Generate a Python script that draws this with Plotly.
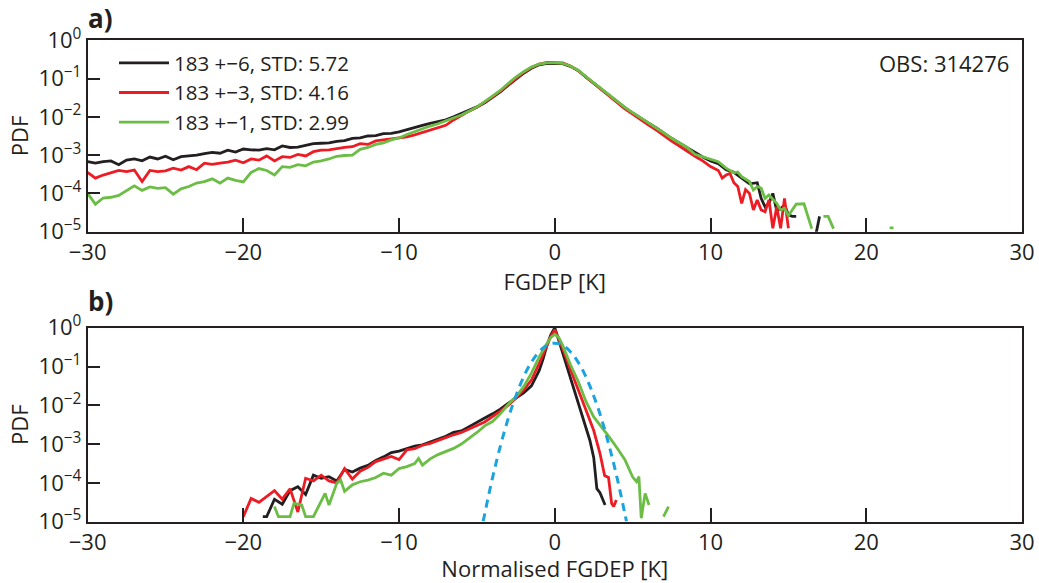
import numpy as np
import plotly.graph_objects as go

# ---------------- data (log10 of PDF) ----------------
# Panel a: FGDEP [K], bins on a 0.5 K grid from -30 to 10, plus irregular tails
xa_main = list(np.round(np.arange(-30, 10.01, 0.5), 2))

a_black_main = [-3.17, -3.21, -3.17, -3.15, -3.25, -3.13, -3.10, -3.15, -3.05, -3.10, -3.03,
                -3.12, -3.04, -3.02, -3.00, -2.96, -2.93, -2.95, -2.87, -2.92, -2.84, -2.86,
                -2.87, -2.83, -2.86, -2.76, -2.80, -2.79, -2.74, -2.70, -2.69,
                -2.68, -2.64, -2.62, -2.56, -2.55, -2.50, -2.49, -2.44, -2.43, -2.39, -2.33,
                -2.26, -2.22, -2.17, -2.13, -2.08, -2.00, -1.92, -1.82, -1.74, -1.63, -1.50,
                -1.35, -1.18, -1.01, -0.86, -0.73, -0.64, -0.60,
                -0.60, -0.61, -0.68, -0.79, -0.96, -1.12, -1.28, -1.45, -1.61, -1.76, -1.90,
                -2.04, -2.16, -2.28, -2.43, -2.56, -2.68, -2.80, -2.94, -3.05, -3.15]
a_red_main = [-3.45, -3.60, -3.52, -3.47, -3.40, -3.43, -3.39, -3.69, -3.40, -3.43, -3.41,
              -3.34, -3.39, -3.30, -3.38, -3.21, -3.24, -3.21, -3.18, -3.13, -3.20, -3.10,
              -3.13, -3.02, -3.15, -3.04, -3.06, -2.98, -3.02, -2.91, -2.87,
              -2.86, -2.82, -2.80, -2.78, -2.70, -2.72, -2.63, -2.60, -2.57, -2.55, -2.52,
              -2.47, -2.41, -2.36, -2.29, -2.22, -2.08, -1.96, -1.85, -1.75, -1.62, -1.48,
              -1.33, -1.16, -0.99, -0.84, -0.71, -0.62, -0.58,
              -0.58, -0.59, -0.67, -0.79, -0.96, -1.13, -1.30, -1.47, -1.63, -1.79, -1.93,
              -2.08, -2.21, -2.34, -2.49, -2.63, -2.76, -2.90, -3.03, -3.15, -3.30]
a_green_main = [-4.00, -4.28, -4.12, -4.10, -4.05, -3.92, -3.80, -3.92, -3.83, -3.87, -3.85,
                -4.02, -3.88, -3.82, -3.73, -3.69, -3.62, -3.73, -3.60, -3.66, -3.70, -3.45,
                -3.35, -3.40, -3.52, -3.30, -3.32, -3.25, -3.28, -3.18, -3.15,
                -3.10, -3.03, -3.01, -3.00, -2.85, -2.80, -2.72, -2.68, -2.60, -2.55, -2.46,
                -2.38, -2.31, -2.24, -2.18, -2.11, -2.03, -1.95, -1.85, -1.74, -1.60, -1.46,
                -1.31, -1.13, -0.96, -0.82, -0.70, -0.62, -0.59,
                -0.59, -0.60, -0.67, -0.78, -0.95, -1.11, -1.27, -1.44, -1.60, -1.75, -1.89,
                -2.02, -2.15, -2.27, -2.42, -2.56, -2.68, -2.80, -2.98, -3.04, -3.12]

a_black_tail_x = [10.5, 11, 11.5, 12, 12.5, 13, 13.25, 13.5, 13.75, 14, 14.25, 14.5, 14.75,
                  15, 15.25, 15.5, 15.75, 16.75, 17.0]
a_black_tail = [-3.22, -3.38, -3.45, -3.60, -3.75, -3.72, -4.13, -4.35, -4.26, -4.00, -4.45,
                -4.40, -4.30, -4.56, -4.60, -4.60, None, -5.10, -4.60]
a_red_tail_x = [10.5, 10.75, 11, 11.25, 11.5, 11.75, 12, 12.25, 12.5, 12.75, 13, 13.25, 13.5,
                13.75, 14, 14.25, 14.5, 14.75, 15]
a_red_tail = [-3.40, -3.60, -3.52, -3.48, -3.72, -3.82, -4.26, -3.90, -4.00, -4.43, -4.17,
              -4.43, -4.48, -4.17, -4.91, -4.35, -4.91, -4.13, -4.91]
a_green_tail_x = [10.5, 11, 11.5, 11.75, 12, 12.5, 12.75, 13, 13.25, 13.5, 13.75, 14.25, 14.5,
                  14.75, 15, 15.5, 16, 16.5, 16.9, 17.25, 17.55, 17.9, 20, 21.5, 21.75]
a_green_tail = [-3.17, -3.34, -3.46, -3.44, -3.56, -3.69, -3.91, -3.82, -3.86, -4.13, -4.04,
                -4.26, -4.43, -4.39, -4.58, -4.28, -4.27, -4.92, None, -4.60, -4.60, -4.92,
                None, -4.90, -4.90]

# Panel b: normalised FGDEP
b_black_x = [-18.75, -18.5, -18, -17.5, -17, -16.5, -16, -15.5, -15, -14.5, -14, -13.5, -13,
             -12.5, -12, -11.5, -11, -10.5, -10, -9.5, -9, -8.5, -8, -7.5, -7, -6.5, -6, -5.5,
             -5, -4.5, -4, -3.5, -3, -2.5, -2, -1.5, -1, -0.75, -0.5, -0.25, 0, 0.25, 0.5, 1,
             1.5, 2, 2.25, 2.5, 2.7, 2.9, 3.05, 3.23]
b_black = [-4.87, -4.87, -4.42, -4.55, -4.20, -4.10, -4.30, -3.80, -3.88, -3.84, -3.95, -3.65,
           -3.72, -3.62, -3.55, -3.42, -3.33, -3.22, -3.18, -3.12, -3.05, -3.02, -2.95, -2.86,
           -2.80, -2.70, -2.66, -2.55, -2.45, -2.33, -2.22, -2.10, -1.95, -1.82, -1.68, -1.50,
           -1.10, -0.80, -0.45, -0.18, 0.0, -0.32, -0.64, -1.25, -1.90, -2.55, -2.90, -3.35,
           -4.15, -4.25, -4.40, -4.57]
b_red_x = [-20, -19.5, -19, -18.5, -18, -17.5, -17, -16.5, -16, -15.5, -15, -14.5, -14, -13.5,
           -13, -12.5, -12, -11.5, -11, -10.5, -10, -9.5, -9, -8.5, -8, -7.5, -7, -6.5, -6,
           -5.5, -5, -4.5, -4, -3.5, -3, -2.5, -2, -1.5, -1, -0.75, -0.5, -0.25, 0, 0.25, 0.5,
           1, 1.5, 2, 2.5, 2.9, 3.2, 3.45, 3.65, 3.78, 3.95]
b_red = [-4.87, -4.40, -4.50, -4.35, -4.20, -4.42, -4.15, -4.75, -3.88, -3.95, -3.80, -3.95,
         -4.00, -3.63, -3.90, -3.70, -3.60, -3.45, -3.38, -3.32, -3.40, -3.15, -3.12, -3.03,
         -2.98, -2.90, -2.82, -2.76, -2.70, -2.62, -2.52, -2.43, -2.30, -2.15, -2.00, -1.82,
         -1.60, -1.35, -0.92, -0.68, -0.45, -0.22, -0.05, -0.28, -0.53, -1.07, -1.62, -2.12,
         -2.65, -3.24, -3.81, -3.86, -4.53, -4.61, -4.44]
b_green_x = [-18, -17.75, -17, -16.75, -16.25, -16, -15.5, -15, -14.75, -14.5, -14, -13.75,
             -13.5, -13, -12.5, -12, -11.5, -11, -10.5, -10, -9.5, -9, -8.75, -8.5, -8, -7.5,
             -7, -6.5, -6, -5.5, -5, -4.5, -4, -3.5, -3, -2.5, -2, -1.5, -1, -0.5, -0.25, 0,
             0.25, 0.5, 1, 1.5, 2, 2.5, 3, 3.5, 4, 4.5, 5, 5.25, 5.4, 5.55, 5.8, 6.05, 6.5,
             6.98, 7.3]
b_green = [-4.61, -4.87, -4.87, -4.53, -4.57, -4.87, -4.87, -4.44, -4.27, -4.57, -4.01, -3.93,
           -4.22, -4.05, -3.97, -3.93, -3.86, -3.75, -3.80, -3.63, -3.58, -3.50, -3.37, -3.54,
           -3.38, -3.27, -3.20, -3.11, -3.00, -2.86, -2.70, -2.53, -2.42, -2.22, -1.98, -1.78,
           -1.52, -1.17, -0.75, -0.40, -0.25, -0.17, -0.25, -0.45, -0.95, -1.38, -1.90, -2.30,
           -2.55, -2.82, -3.10, -3.40, -3.85, -3.97, -3.84, -4.91, -4.27, -4.57, None, -4.87,
           -4.61]
# reference normal distribution (dashed)
b_normal_x = [-4.6, -4.5, -4.25, -4.0, -3.75, -3.5, -3.25, -3.0, -2.75, -2.5, -2.25, -2.0,
              -1.75, -1.5, -1.25, -1.0, -0.75, -0.5, -0.25, 0.0, 0.25, 0.5, 0.75, 1.0, 1.25,
              1.5, 1.75, 2.0, 2.25, 2.5, 2.75, 3.0, 3.25, 3.5, 3.75, 4.0, 4.25, 4.5, 4.6]
b_normal = [-4.99, -4.80, -4.32, -3.87, -3.45, -3.06, -2.69, -2.35, -2.04, -1.76, -1.50, -1.27,
            -1.06, -0.89, -0.74, -0.62, -0.52, -0.45, -0.41, -0.40, -0.41, -0.45, -0.52, -0.62,
            -0.74, -0.89, -1.06, -1.27, -1.50, -1.76, -2.04, -2.35, -2.69, -3.06, -3.45, -3.87,
            -4.32, -4.80, -4.99]

legend_names = ["183 +\u22126, STD: 5.72", "183 +\u22123, STD: 4.16", "183 +\u22121, STD: 2.99"]
x_ticks = [-30, -20, -10, 0, 10, 20, 30]
x_ticktext = ["\u221230", "\u221220", "\u221210", "0", "10", "20", "30"]
y_ticks = [1e-5, 1e-4, 1e-3, 1e-2, 1e-1, 1e0]
y_ticktext = ["10<sup>\u22125</sup>", "10<sup>\u22124</sup>", "10<sup>\u22123</sup>",
              "10<sup>\u22122</sup>", "10<sup>\u22121</sup>", "10<sup>0</sup>"]

# ---------------- styling ----------------
W, H = 1039, 583
FONT = "Open Sans"
TXT = "#231f20"
C_BLACK, C_RED, C_GREEN, C_BLUE = "#231f20", "#ed1c24", "#6cbd45", "#1ba3e0"
LW = 2.8
FS = 22


def pdf(vals):
    return [None if v is None else 10 ** v for v in vals]


fig = go.Figure()

# panel a
for xs, ys, col, nm in [
    (xa_main + a_black_tail_x, a_black_main + a_black_tail, C_BLACK, legend_names[0]),
    (xa_main + a_red_tail_x, a_red_main + a_red_tail, C_RED, legend_names[1]),
    (xa_main + a_green_tail_x, a_green_main + a_green_tail, C_GREEN, legend_names[2]),
]:
    fig.add_trace(go.Scatter(x=xs, y=pdf(ys), mode="lines", name=nm,
                             line=dict(color=col, width=LW), xaxis="x", yaxis="y"))

# panel b
for xs, ys, col in [(b_black_x, b_black, C_BLACK), (b_red_x, b_red, C_RED),
                    (b_green_x, b_green, C_GREEN)]:
    fig.add_trace(go.Scatter(x=xs, y=pdf(ys), mode="lines", showlegend=False,
                             line=dict(color=col, width=LW), xaxis="x2", yaxis="y2"))
fig.add_trace(go.Scatter(x=b_normal_x, y=pdf(b_normal), mode="lines", showlegend=False,
                         line=dict(color=C_BLUE, width=3, dash="8px,6px", shape="spline"),
                         xaxis="x2", yaxis="y2"))

L, R = 87.6 / W, 1022 / W
ya_dom = [(H - 231.7) / H, (H - 40.3) / H]
yb_dom = [(H - 521.7) / H, (H - 327.7) / H]

xax = dict(range=[-30, 30], tickvals=x_ticks, ticktext=x_ticktext, ticks="inside",
           ticklen=14, tickwidth=1.5, tickcolor=TXT, showline=True, mirror=True,
           linecolor=TXT, linewidth=1.6, showgrid=False, zeroline=False, automargin=False,
           tickfont=dict(family=FONT, size=FS, color=TXT), domain=[L, R])
yax = dict(type="log", range=[-5, 0], tickvals=y_ticks, ticktext=y_ticktext, ticks="inside",
           ticklen=13, tickwidth=1.5, tickcolor=TXT, showline=True, mirror=True,
           linecolor=TXT, linewidth=1.6, showgrid=False, zeroline=False, automargin=False,
           tickfont=dict(family=FONT, size=FS, color=TXT))

fig.update_layout(
    width=W, height=H, autosize=False,
    margin=dict(l=0, r=0, t=0, b=0, autoexpand=False),
    paper_bgcolor="white", plot_bgcolor="white",
    font=dict(family=FONT, color=TXT, size=FS),
    xaxis=dict(xax, anchor="y",
               title=dict(text="FGDEP [K]", font=dict(family=FONT, size=FS, color=TXT),
                          standoff=0)),
    yaxis=dict(yax, anchor="x", domain=ya_dom,
               title=dict(text="PDF", font=dict(family=FONT, size=FS, color=TXT),
                          standoff=4)),
    xaxis2=dict(xax, anchor="y2",
                title=dict(text="Normalised FGDEP [K]",
                           font=dict(family=FONT, size=FS, color=TXT), standoff=0)),
    yaxis2=dict(yax, anchor="x2", domain=yb_dom,
                title=dict(text="PDF", font=dict(family=FONT, size=FS, color=TXT),
                           standoff=4)),
    showlegend=True,
    legend=dict(x=114 / W, y=(H - 43) / H, xanchor="left", yanchor="top",
                bgcolor="rgba(0,0,0,0)", borderwidth=0, itemwidth=50,
                font=dict(family=FONT, size=20.5, color=TXT), tracegroupgap=0),
    annotations=[
        dict(text="<b>a)</b>", x=86 / W, y=(H - 18) / H, xref="paper", yref="paper",
             xanchor="left", yanchor="middle", showarrow=False,
             font=dict(family=FONT, size=26, color=TXT)),
        dict(text="<b>b)</b>", x=86 / W, y=(H - 301) / H, xref="paper", yref="paper",
             xanchor="left", yanchor="middle", showarrow=False,
             font=dict(family=FONT, size=26, color=TXT)),
        dict(text="OBS: 314276", x=1011 / W, y=(H - 63) / H, xref="paper", yref="paper",
             xanchor="right", yanchor="middle", showarrow=False,
             font=dict(family=FONT, size=FS, color=TXT)),
    ],
)

fig.write_html("out.html")
